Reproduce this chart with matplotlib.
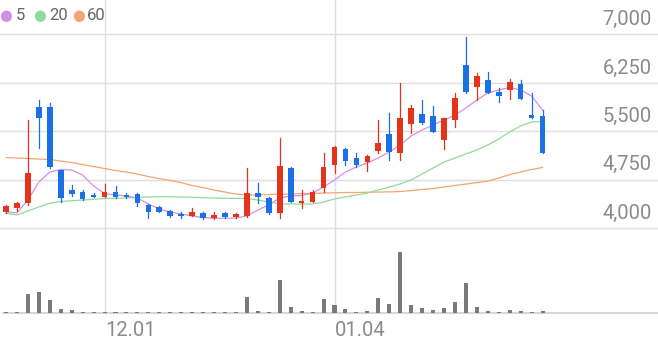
import matplotlib
matplotlib.use("Agg")
import matplotlib.pyplot as plt

# ---------------- data ----------------
opens  = [4250, 4310, 4387, 5873, 5882, 4902, 4593, 4567, 4515, 4489,
          4567, 4515, 4531, 4361, 4325, 4268, 4220, 4195, 4241, 4155,
          4241, 4180, 4190, 4542, 4464, 4232, 4929, 4387, 4412, 4619,
          4980, 5228, 5084, 5022, 5197, 5455, 5161, 5615, 5765, 5738,
          5367, 5676, 6528, 6183, 6296, 6115, 6141, 6234, 5754, 5743]
highs  = [4355, 4412, 5676, 5986, 5935, 4910, 4670, 4593, 4540, 4686,
          4655, 4540, 4545, 4370, 4345, 4290, 4257, 4310, 4257, 4257,
          4250, 4240, 4929, 4697, 4480, 5393, 4950, 4593, 4593, 5170,
          5274, 5240, 5170, 5135, 5676, 5780, 6245, 5909, 5986, 5893,
          5710, 6090, 6966, 6399, 6424, 6167, 6306, 6290, 6090, 5831]
lows   = [4240, 4272, 4361, 5238, 4933, 4412, 4500, 4438, 4480, 4480,
          4464, 4464, 4345, 4155, 4250, 4180, 4155, 4190, 4140, 4140,
          4160, 4165, 4180, 4387, 4215, 4155, 4400, 4310, 4400, 4567,
          4861, 4980, 4954, 4892, 5161, 5057, 5057, 5471, 5615, 5495,
          5223, 5573, 6100, 5986, 6090, 5960, 5997, 5995, 5700, 5165]
closes = [4345, 4387, 4851, 5703, 4944, 4464, 4531, 4454, 4489, 4567,
          4480, 4480, 4387, 4257, 4257, 4195, 4195, 4257, 4155, 4206,
          4170, 4215, 4551, 4480, 4232, 4964, 4412, 4423, 4567, 4954,
          5254, 5046, 4980, 5119, 5325, 5186, 5712, 5858, 5635, 5495,
          5703, 6012, 6115, 6362, 6099, 6048, 6269, 6002, 5703, 5170]
volumes = [0.3, 0.3, 19, 20.7, 12.3, 4, 2.7, 0.6, 0.3, 0.6,
           0.3, 0.3, 0.6, 0.6, 0.3, 0.3, 0.3, 0.3, 0.3, 0.3,
           0.3, 0.3, 15.7, 2, 1, 33, 5.7, 1.3, 1, 13.7,
           7.3, 3.7, 1, 1.7, 14.7, 8.3, 60.7, 7.3, 4.7, 2.7,
           4.3, 11, 29.3, 5.7, 2, 1, 2.7, 1.7, 1, 1.3]
ma5  = [4257, 4237, 4438, 4717, 4871, 4910, 4902, 4825, 4655, 4539,
        4515, 4500, 4469, 4376, 4299, 4252, 4221, 4190, 4167, 4155,
        4155, 4159, 4190, 4283, 4361, 4469, 4500, 4508, 4546, 4639,
        4748, 4871, 4949, 5011, 5088, 5181, 5289, 5429, 5522, 5599,
        5676, 5754, 5862, 5986, 6094, 6141, 6179, 6141, 6048, 5831]
ma20 = [4232, 4206, 4268, 4330, 4387, 4415, 4427, 4438, 4449, 4461,
        4464, 4469, 4477, 4484, 4489, 4489, 4484, 4480, 4474, 4469,
        4464, 4464, 4461, 4438, 4407, 4376, 4376, 4376, 4376, 4407,
        4454, 4484, 4515, 4546, 4593, 4639, 4686, 4748, 4841, 4933,
        5026, 5088, 5150, 5212, 5289, 5382, 5491, 5584, 5646, 5653]
ma60 = [5095, 5088, 5080, 5072, 5064, 5041, 5018, 4987, 4956, 4925,
        4894, 4871, 4840, 4801, 4770, 4739, 4708, 4662, 4631, 4592,
        4561, 4530, 4515, 4515, 4523, 4530, 4530, 4538, 4538, 4546,
        4549, 4554, 4554, 4558, 4561, 4564, 4569, 4584, 4600, 4615,
        4639, 4662, 4685, 4708, 4731, 4778, 4832, 4871, 4910, 4941]
price_ticks = [4000, 4750, 5500, 6250, 7000]
price_tick_labels = ["4,000", "4,750", "5,500", "6,250", "7,000"]
date_tick_pos = [9, 30]
date_tick_labels = ["12.01", "01.04"]
legend_labels = ["5", "20", "60"]

# ---------------- style ----------------
W, H = 658, 342
UP, DOWN = "#e5341b", "#1c70e6"
MA_COLORS = ["#d58ee6", "#8fdb9c", "#f4a473"]
GRID = "#dedede"
TXT = "#8a8a8a"
FONT = "Roboto"

fig = plt.figure(figsize=(W / 100, H / 100), dpi=100)
n = len(closes)
x = list(range(n))
XL = (-6 / 10.95, (W - 6) / 10.95)

# background axes (pixel y coordinates) for shared gridlines / baseline
ax_bg = fig.add_axes([0, 0, 1, 1])
ax_bg.set_xlim(XL)
ax_bg.set_ylim(H, 0)
ax_bg.axis("off")
for p in date_tick_pos:
    ax_bg.plot([p, p], [0, 313], color=GRID, lw=1.0, zorder=0)
ax_bg.plot([XL[0] + 0.25, XL[1]], [313, 313], color="#cfcfcf", lw=1.2, zorder=0)

# price axes
ax = fig.add_axes([0, 1 - 240 / H, 1, 240 / H])
ax.patch.set_alpha(0)
ax.set_xlim(XL)
ax.set_ylim(7534 - 15.48 * 240, 7534)
ax.axis("off")
for t in price_ticks:
    ax.axhline(t, color=GRID, lw=1.0, zorder=0)
for t, lab in zip(price_ticks, price_tick_labels):
    ax.annotate(lab, xy=(652 / W, t), xycoords=("axes fraction", "data"),
                xytext=(0, 15), textcoords="offset pixels",
                ha="right", va="center", fontsize=14.5, color=TXT, family=FONT)

# moving averages
for vals, c in zip([ma60, ma20, ma5], MA_COLORS[::-1]):
    ax.plot(x, vals, color=c, lw=0.9, zorder=2)

# candles
bw = 0.52
for i in x:
    o, h, l, c = opens[i], highs[i], lows[i], closes[i]
    col = UP if c >= o else DOWN
    ax.plot([i, i], [l, h], color=col, lw=0.9, zorder=3)
    bottom = min(o, c)
    height = max(abs(c - o), 25)
    ax.bar(i, height, bottom=bottom - (height - abs(c - o)) / 2, width=bw,
           color=col, edgecolor="none", zorder=4)

# volume axes
axv = fig.add_axes([0, (H - 312.5) / H, 1, 67.5 / H])
axv.patch.set_alpha(0)
axv.set_xlim(XL)
axv.set_ylim(0, 67.5)
axv.axis("off")
axv.bar(x, volumes, width=0.37, color="#7a7a7a", edgecolor="none")

# date labels
for p, lab in zip(date_tick_pos, date_tick_labels):
    ax_bg.text(p + 0.05, 331, lab, ha="left", va="center", fontsize=14.5,
               color=TXT, family=FONT)

# legend
lx = [6, 39.5, 78.5]
tx = [16, 49, 87]
for c, lab, px, ptx in zip(MA_COLORS, legend_labels, lx, tx):
    fig.text(px / W, 1 - 15.7 / H, "\u25CF", color=c, fontsize=10.5,
             ha="center", va="center", family="DejaVu Sans")
    fig.text(ptx / W, 1 - 16 / H, lab, color="#666666", fontsize=12,
             ha="left", va="center", family=FONT)

fig.savefig("out.png", dpi=100)
